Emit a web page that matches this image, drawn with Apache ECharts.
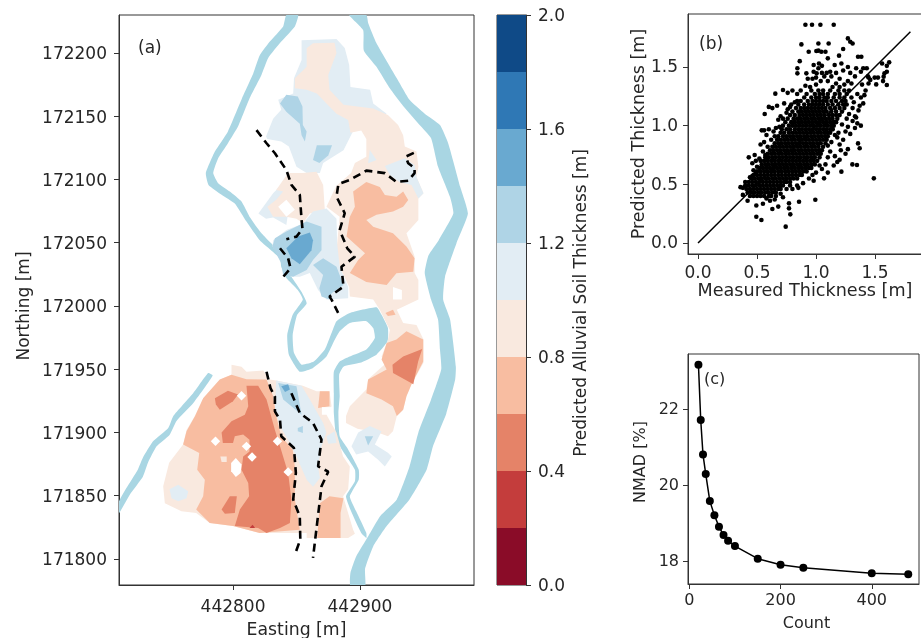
<!DOCTYPE html>
<html><head><meta charset="utf-8">
<style>html,body{margin:0;padding:0;background:#fff;overflow:hidden}#c{width:921px;height:638px;filter:blur(0.35px)}</style>
<script src="https://cdn.jsdelivr.net/npm/echarts@6/dist/echarts.min.js"></script>
</head><body><div id="c"></div>
<script>
// Map coordinates are metres east of 442700 and north of 171800.
const EAST0 = 442700, NORTH0 = 171800;
const levelEdges = [0,0.2,0.4,0.6,0.8,1.0,1.2,1.4,1.6,1.8,2.0];
const levelColors = ['#8a0c28','#c43d3c','#e58368','#f8bda1','#f9e9df','#e2edf4','#afd4e6','#69a9d0','#2f78b5','#0f4a87'];
const colorbarTicks = [0,0.4,0.8,1.2,1.6,2.0];

const riverEast = [[191.5,430],[202.5,418],[203,402],[213,389],[223.5,372],[234,358],[247,343],[256,332.5],[261.5,310],[271,286],[273.5,273],[262,252],[254,240],[251,226],[256,205],[261.5,189],[263,165.5],[264,150],[256,126],[246,100],[239,73],[229,47],[216,34],[206.5,18],[197,2],[192.5,-11],[192.5,-22],[204,-22],[204,-8],[210.5,10],[221,26],[239,47],[252.5,70.5],[257.5,89],[268,115],[275,142],[275.5,152],[271,189],[265.5,205],[267,223],[276,249.5],[285,273],[279,294],[269.5,328.5],[263,343],[251,352],[239,363],[229,380],[213,407.7],[206.5,423.5],[205,430]];
const riverWest = [[142,430],[139.5,421],[129,409],[121,398],[116,384],[107,364],[96,338],[85.7,322],[78.6,305],[80.7,295.7],[91,288],[101.4,281],[110.6,266.7],[121,252],[137,237.7],[138,231],[142,222],[151,212.6],[155,205],[147,193],[142.7,177],[144,161.5],[152.6,148],[163,151],[173.6,160],[180,173],[184,180],[192,186.5],[205,188],[210.4,182.6],[211.7,174.7],[205,165.5],[192,160],[184,156],[179.4,148],[179.4,131],[179.4,115.4],[181.5,94.3],[186.7,85],[196,70.6],[196,61.4],[189,49.5],[193,37.7],[201,20.5],[205,16.6],[205,20.5],[197,37.7],[192,49.5],[199,62.7],[199,70.6],[190,87.7],[184,97],[183,115.4],[184,128.6],[183.6,145.7],[187,152],[200,155],[213,161.5],[221.7,172],[222,182.6],[217,193],[213,199],[192,194.5],[181.5,188],[177.6,178.6],[172.3,165.5],[163.6,156],[154,153.6],[148,163],[147,177],[150.5,193],[158,202],[154,211],[146,223],[142,230],[141,238],[122.4,257.5],[113,270.6],[106.7,282.5],[97.5,290.4],[88.3,297],[84.4,305],[88.3,316.7],[96,328.6],[104,342],[113,364],[122.4,382.6],[127.7,396],[138,409],[148.7,421],[151.3,430]];
const riverSouthWest = [[80.4,147],[68.6,131],[53,113],[49,103.6],[37,93],[29,80],[25,70.6],[16,56],[10,45],[10,36],[18.8,51],[29,65],[33,76],[39.8,89],[50,98],[55.5,109],[68.6,123],[84,145]];

const blueNorth = [[154,410],[181.5,411],[188,404],[191.5,390.5],[192.5,373],[208,371],[210.4,360],[221,352],[197,343],[187,323],[171,313],[168.4,305],[158,305],[150,310],[147,318],[144,326],[138,330],[127,332],[126,334],[131.6,348],[138,355],[135.6,363],[147.4,368],[148,380],[154,394.5]];
const creamNorthEast = [[148.7,380],[158,389],[158,403.7],[163,407.7],[180,408],[181.5,400],[175,382.6],[176,371],[187,359],[210.4,356],[222,351],[230,343],[234,335],[235.3,326],[244.5,322],[246,310],[244.5,302],[250,289],[246,285],[246,268],[236.6,257.5],[243,239],[243,226],[246,220.6],[246,205],[229,197],[234,186.6],[244.5,185],[250,173.4],[250,155],[240.6,138],[236.6,128.6],[234,118],[229,113],[226,101],[222,97],[214,100],[198,103],[189,107.5],[189,113],[192,120.7],[205,134],[206.4,142],[221,155],[217,160],[222,173],[223.5,181],[215.6,197],[210.4,205],[192,207.4],[191.5,215],[184,231],[181.5,244],[184,270.6],[173.6,278.5],[179,290],[181.5,295],[193,305],[196,313],[205,318],[205,332],[201,338.6],[192.5,337],[190.7,347],[181.5,352],[173.6,360],[166,368],[158,371],[148.7,372]];
const blueNorthEast = [[219.6,310.7],[235.3,316.7],[243,311.5],[244.5,302],[250,289],[246,285],[240.6,295.7],[231,298],[223.5,303.6]];
const blueDot = [[207.7,323.3],[213,315.4],[206.4,312.8]];
const salmonEast = [[194.6,290.4],[205,298],[215.6,294],[219.6,287.8],[228.8,286.4],[234,290.4],[238,283.8],[234,278.5],[226,274.6],[213,272],[205,268],[210.4,262.7],[226,257.5],[236.6,247],[243,237.7],[242,227],[228.7,225.8],[221,216.6],[205,219],[192,226],[198.6,236.4],[204,241.6],[189.4,254.8],[192,270.6],[196,278.5]];
const notchEast = [[226,215],[233,212.6],[233,205],[226,205]];
const midBlueNorth = [[137,360],[142,367],[151,365.5],[154.7,357.6],[155,343],[158,338],[156.6,330],[154,335],[152.6,344],[142,353.6]];
const midBlueCentre = [[163,315.4],[166,327],[178,327],[175,319],[168,313]];
const blueCentre = [[155,265],[163,274.6],[173.6,277],[181.5,269],[182,249.5],[184,231],[190.7,215],[190.7,206],[173.6,205],[167,212.6],[160.5,226],[152.6,223],[146,223],[139.5,226],[139.5,236],[131,247],[131.6,252],[142,260]];
const midBlueCoreA = [[131,247],[133,253.5],[142,258.8],[158,266.7],[169.7,262.7],[169.7,244],[163,236.4],[158,228.5],[147.4,223],[139.5,224.5],[138,233.7]];
const midBlueCoreB = [[163,232.4],[171,237.7],[181.5,231],[187,216.6],[177.6,210],[176,205],[169.7,207.4],[168,214],[171,224.5]];
const deepBlueCore = [[142,245.6],[151.3,254.8],[160.5,258],[163,252],[161.8,244],[152.6,233],[146,237.7]];
const blueTail = [[120,273],[131.6,289],[138,295.7],[146,291],[142,264],[131.6,270],[126,269]];
const creamCentre = [[143.4,305],[155,305],[165.8,306],[171,295.7],[172.3,276],[160.5,273],[155,265.4],[150,269],[142,270.6],[131.6,270.6],[127,278.5],[134,284],[139.5,290.4],[134,291.7]];
const holeCentre = [[135.6,278.5],[142,284],[148.7,276],[142,270.6]];

const creamSouth = [[98.8,153.6],[106.7,152],[110.6,148],[123.8,149],[129,141.8],[134,141],[155,137],[165.8,132.5],[176,132.5],[177.6,120.7],[173.6,114],[181.5,100],[186.7,81],[192,73],[190.7,55],[186.7,49.5],[194.6,23],[196,20],[190.7,16.6],[158,16.6],[158,20.5],[146,20.5],[121,20.5],[100,26],[81.7,28.5],[71,36.4],[59.4,37.7],[46.3,44],[45,57.4],[49.7,76],[60.7,90.4],[63.4,102],[70,113],[76.5,127],[89.6,141.8],[98.8,145.7]];
const blueDiagonal = [[134,141],[154,137],[160.5,126],[171,107.5],[173.6,100],[169.7,89],[167,73],[168.4,64],[163,57],[158,62.7],[150,81],[144.8,91.7],[137,105],[133,118]];
const blueDiagonalSpot = [[173.6,97],[180,101],[181.5,91.7],[175,91]];
const midBlueDiagonal = [[135.6,139],[150,136.5],[154,114],[146,120.7],[139.5,126]];
const deepBlueDiagonal = [[138,136.5],[143.4,138],[144.8,134],[141,132]];
const midBlueSpeck = [[151,103.5],[155,105],[155,99.6],[151,101]];
const salmonWest = [[98.8,145.7],[110.6,142],[126.4,141.8],[131.6,128.6],[134,113],[138,97],[147,86.4],[148.7,73],[148.7,47],[152.6,23],[121,20.5],[100,26],[81.7,28.5],[71,39],[76.5,49.5],[77.8,62.7],[71.8,70.6],[73.4,83.8],[60.7,90.4],[63.4,101],[70,112.8],[76.5,127],[89.6,141.8]];
const redMain = [[110.6,137],[119.8,137],[126.4,126],[133,102],[137,89],[143.4,68],[146,47],[144.8,28.5],[137,24.5],[126.4,20.5],[119.8,24.5],[101.4,26],[105.4,39],[112.7,49.5],[112,60],[106.7,70.6],[108,81],[113,85],[113,94.3],[108,98.3],[101.4,97],[100,91.7],[92,91.7],[91,100],[98.8,108.8],[109.3,114],[112,120.7]];
const redNorth = [[85.7,127],[96,133],[104,130],[100,124.6],[89.6,118],[86.5,122]];
const redSouth = [[91,39],[97.5,49.5],[103,49.5],[101.4,36.4],[93.6,35.8]];
const deepRedSpeck = [[113,24.5],[115.4,27],[117.4,24.5]];
const bluePatchWest = [[50,55],[56.8,58.7],[64.7,53.5],[63.4,48],[56.8,45.6],[51.6,48]];
const creamSpeck = [[90,81],[95,81],[95,76.7],[91,76.7]];
const holeA = [[103,129],[106.7,132.7],[110.4,129],[106.7,125.3]];
const holeB = [[82.5,93],[86.2,96.7],[89.9,93],[86.2,89.3]];
const holeC = [[106.9,89],[110.6,92.7],[114.3,89],[110.6,85.3]];
const holeD = [[111.3,80.6],[115,84.3],[118.7,80.6],[115,76.9]];
const holeE = [[131.3,93],[135,96.7],[138.7,93],[135,89.3]];
const holeF = [[139.7,68.8],[143.4,72.5],[147.1,68.8],[143.4,65.1]];
const holeG = [[102.2,79.8],[106.7,74.6],[106,68],[102.2,64.8],[98.5,69.3],[98.5,75.9]];
const salmonSouthEast = [[168.4,44],[176,49.5],[187,48],[184.7,36.4],[184.7,16.6],[166.3,16.6]];
const salmonSpot = [[168.4,132.5],[176,132.5],[176,120.7],[167,119.4]];
const holeH = [[170,120],[177.6,120],[177.6,114],[170,114]];
const salmonUpper = [[217,157.6],[221,170.7],[228.7,173.4],[236.6,180],[249.8,173.4],[249.8,156],[240.6,138],[236.6,128.6],[234,118],[229,113],[226,120.7],[217,126],[205,131],[206.4,141.8],[221,149.7]];
const redUpper = [[225.6,153.6],[234,160],[249,166],[245.8,156],[242,138],[235.3,141.8],[226,147]];
const salmonSpeck = [[220,194.5],[226,197],[228,193],[222,192]];
const bluePatchSouth = [[193.3,89],[198.6,100],[207.7,105],[217,101],[211.7,90.4],[222,84],[225,81],[219.6,73],[214.3,78.5],[206.4,85],[197,82.5]];
const midBluePatch = [[203.8,97],[210.4,97],[206.4,89.6]];

// [level index, outline]; level -1 is an unfilled gap. Later layers paint over earlier ones.
const contourLayers = [
 [5,blueNorth],[4,creamNorthEast],[5,blueNorthEast],[5,blueDot],[3,salmonEast],[-1,notchEast],
 [6,midBlueNorth],[6,midBlueCentre],[5,blueTail],[4,creamCentre],[-1,holeCentre],
 [5,blueCentre],[6,midBlueCoreA],[6,midBlueCoreB],[7,deepBlueCore],
 [4,creamSouth],[5,blueDiagonal],[5,blueDiagonalSpot],[6,midBlueDiagonal],[7,deepBlueDiagonal],[6,midBlueSpeck],
 [3,salmonWest],[2,redMain],[2,redNorth],[2,redSouth],[1,deepRedSpeck],[5,bluePatchWest],[4,creamSpeck],
 [-1,holeA],[-1,holeB],[-1,holeC],[-1,holeD],[-1,holeE],[-1,holeF],[-1,holeG],
 [3,salmonSouthEast],[3,salmonSpot],[-1,holeH],[3,salmonUpper],[2,redUpper],[3,salmonSpeck],[5,bluePatchSouth],[6,midBluePatch]
];

const dashA = [[118.5,339],[126.4,328.6],[133,320.7],[142,307.5],[146,295.7],[152.6,287.8],[154,268],[154.7,261],[150,254.8],[142,252.7]];
const dashA2 = [[137,245.6],[143.4,237.7],[145.3,229.8],[139.5,223]];
const dashB = [[242.4,321],[236,318],[238,312.8],[243,309],[243,305],[238,299],[228.8,298],[219.6,305],[205,307],[192,299.6],[183,296.4],[181.5,286.4],[188,273.3],[184,260],[190,245.6],[196,239],[185.4,231],[187,215.3],[176,207.4],[177.6,205],[182.8,194.5]];
const dashC = [[126.4,148],[129.5,135],[133,128.6],[133,116.7],[137,110],[138,97],[148,87.7],[149.5,68],[147.4,47],[152.6,33.7],[153,15.3],[148.7,3.4]];
const dashD = [[146,131],[152.6,115.4],[163,107.5],[169.7,94.3],[167,73.2],[175,69],[169.7,57.4],[163,0.8]];

const mapEastTicks = [442800,442900];
const mapNorthTicks = [171800,171850,171900,171950,172000,172050,172100,172150,172200];

// Scatter (b): each row is [predicted, measured, measured, ...]
const scatterRows = [
[.40,.44,.47,.50,.53,.56,.60,.62],
[.43,.42,.45,.48,.51,.54,.57,.60,.63,.66],
[.46,.41,.44,.47,.50,.53,.56,.59,.62,.65,.68,.70],
[.49,.40,.43,.46,.49,.52,.55,.58,.61,.64,.67,.70,.72],
[.52,.43,.46,.49,.52,.55,.58,.61,.64,.67,.70,.73,.75,.78],
[.55,.45,.48,.51,.54,.57,.60,.63,.66,.69,.72,.75,.78,.81,.84],
[.58,.47,.50,.53,.56,.59,.62,.65,.68,.71,.74,.77,.80,.83,.86,.88],
[.61,.50,.53,.56,.59,.62,.65,.68,.71,.74,.77,.80,.83,.86,.89,.92],
[.64,.52,.55,.58,.61,.64,.67,.70,.73,.76,.79,.82,.85,.88,.91,.94,.96],
[.67,.54,.57,.60,.63,.66,.69,.72,.75,.78,.81,.84,.87,.90,.93,.96,.99],
[.70,.56,.59,.62,.65,.68,.71,.74,.77,.80,.83,.86,.89,.92,.95,.98,1.01],
[.73,.57,.60,.63,.66,.69,.72,.75,.78,.81,.84,.87,.90,.93,.96,.99,1.03],
[.76,.59,.62,.65,.68,.71,.74,.77,.80,.83,.86,.89,.92,.95,.98,1.01,1.04],
[.79,.61,.64,.67,.70,.73,.76,.79,.82,.85,.88,.91,.94,.97,1.00,1.03,1.05],
[.82,.63,.66,.69,.72,.75,.78,.81,.84,.87,.90,.93,.96,.99,1.02,1.06],
[.85,.65,.68,.71,.74,.77,.80,.83,.86,.89,.92,.95,.98,1.01,1.04,1.08],
[.88,.67,.70,.73,.76,.79,.82,.85,.88,.91,.94,.97,1.00,1.03,1.06,1.09],
[.91,.68,.72,.75,.78,.81,.84,.87,.90,.93,.96,.99,1.02,1.05,1.08,1.10],
[.94,.70,.73,.77,.80,.83,.86,.89,.92,.95,.98,1.01,1.04,1.07,1.10,1.12],
[.97,.71,.75,.78,.82,.85,.88,.91,.94,.97,1.00,1.03,1.06,1.09,1.12,1.14],
[1.00,.72,.77,.80,.83,.86,.89,.92,.95,.98,1.01,1.04,1.07,1.10,1.13,1.15],
[1.03,.74,.79,.82,.85,.88,.91,.94,.97,1.00,1.03,1.06,1.09,1.12,1.15,1.17],
[1.06,.76,.81,.84,.87,.90,.93,.96,.99,1.02,1.05,1.08,1.11,1.14,1.18],
[1.09,.78,.82,.86,.89,.92,.95,.98,1.01,1.04,1.07,1.11,1.14,1.17,1.20],
[1.12,.80,.85,.88,.91,.94,.97,1.00,1.03,1.06,1.09,1.13,1.17,1.22],
[1.15,.83,.87,.90,.93,.96,.99,1.02,1.05,1.08,1.12,1.16,1.20,1.24],
[1.18,.85,.90,.94,.97,1.00,1.03,1.06,1.10,1.14,1.19,1.23,1.26],
[1.21,.87,.93,.97,1.00,1.03,1.06,1.09,1.13,1.17,1.22,1.25],
[1.24,.90,.96,1.00,1.03,1.07,1.10,1.15,1.20,1.24],
[1.27,.92,.99,1.03,1.06,1.10,1.16,1.20,1.26],
[1.30,.96,1.02,1.06,1.12,1.19,1.24]
];
const scatterOutliers = [
[.91,1.86],[.966,1.86],[1.037,1.86],[1.15,1.86],[.876,1.693],[1.02,1.70],[1.107,1.70],[1.27,1.744],[1.29,1.716],[1.31,1.70],[1.23,1.653],[.938,1.63],[1.003,1.636],[1.02,1.64],[1.045,1.63],[1.08,1.63],[1.195,1.597],[1.10,1.574],[1.356,1.588],[1.384,1.588],[.862,1.55],[.98,1.517],[1.025,1.53],[1.05,1.51],[1.158,1.517],[1.215,1.53],[.842,1.489],[.842,1.446],[.918,1.446],[.98,1.46],[1.005,1.446],[1.62,1.54],[1.56,1.53],[1.60,1.51],[1.60,1.46],[1.58,1.446],[1.573,1.418],[1.525,1.41],[1.497,1.41],[1.51,1.352],[1.568,1.38],[1.60,1.347],[1.34,1.49],[1.40,1.49],[1.43,1.49],[1.38,1.46],[1.46,1.39],[1.445,1.41],[1.445,1.36],[1.49,.551],
[.743,.139],[.494,.224],[.537,.196],[.771,.338],[.771,.295],[.782,.244],[.856,.352],[.994,.369],[.68,.31],[.63,.29],[.55,.335],[.494,.32],[.42,.36],[.38,.41],[.36,.476],[.61,.36],[.72,.39],[.80,.46],[.84,.49],
[1.347,.665],[1.308,.67],[1.215,.608],[1.068,.551],[1.37,.807],[1.356,.849],[.655,1.273],[.565,1.099],[.72,1.304],[.43,.73],[.48,.75],[.46,.68],[.49,.70],[.53,.70],[.55,.78],[.53,.84],[.56,.86],[.58,.92],[.54,.96],[.56,.96],[.60,.97],[.64,.95],[.66,.98],[.68,1.05],[.70,1.08],[.63,1.15],[.67,1.17],[.60,1.16],[.73,1.19],[.76,1.14],[.79,1.18],[.76,1.28],[.80,1.30],[.84,1.27],[.84,1.21],[.87,1.30],[.91,1.34],[.95,1.33],[1.00,1.35],[.93,1.40],[.97,1.40],[1.00,1.41],[1.04,1.38],[1.07,1.42],[1.10,1.38],[1.13,1.42],[1.17,1.45],[1.20,1.40],[1.23,1.47],[1.17,1.36],[1.14,1.33],[1.20,1.33],[1.24,1.35],[1.27,1.38],[1.30,1.36],[1.33,1.42],[1.29,1.45],[1.27,1.50],[1.12,1.46],[1.09,1.45],[1.05,1.45],[1.02,1.49],[1.28,1.30],[1.30,1.24],[1.32,1.20],[1.35,1.27],[1.38,1.24],[1.41,1.26],[1.37,1.17],[1.40,1.19],[1.36,1.13],[1.31,1.15],[1.28,1.10],[1.33,1.08],[1.26,1.06],[1.31,1.04],[1.35,1.02],[1.38,1.00],[1.33,.98],[1.27,.99],[1.25,.95],[1.22,1.01],[1.19,.94],[1.16,.92],[1.14,.97],[1.29,.93],[1.23,.88],[1.20,.84],[1.18,.90],[1.13,.86],[1.10,.83],[1.21,.79],[1.25,.76],[1.27,.80],[1.16,.74],[1.12,.78],[1.10,.73],[1.18,.69],[1.15,.66],[1.20,.71],[1.08,.67],[1.05,.63],[1.03,.66],[1.00,.60],[1.10,.60],[.97,.58],[.94,.55],[.98,.53],[.89,.51],[.85,.47],[.78,.49],[.75,.46],[.70,.42],[.66,.40],[.58,.38],[.65,.37],[.38,.47],[.40,.52],[.44,.56],[.47,.62],[.46,.57],[.50,.65],[.49,.60],[.52,.72],[.57,.75],[.59,.82],[.62,.88],[.65,.91],[.69,.99],[.72,1.06],[.75,1.11],[.78,1.16],[.82,1.20],[1.34,1.07],[1.44,1.42],[1.39,1.35],[1.42,1.30]
];
const lineEnds = [[0,0],[1.8,1.8]];
const bTicks = [0,0.5,1.0,1.5];

// Panel (c)
const counts = [20,25,30,36,45,55,65,75,85,100,150,200,250,400,480];
const nmad = [23.16,21.71,20.80,20.29,19.58,19.21,18.91,18.69,18.54,18.40,18.07,17.91,17.83,17.69,17.66];
const cXTicks = [0,200,400];
const cYTicks = [18,20,22];

const FONT = 'DejaVu Sans', TXT = '#262626', FRAME = '#333';
const scatterData = [];
scatterRows.forEach(r => r.slice(1).forEach(x => scatterData.push([x, r[0]])));
scatterOutliers.forEach(p => scatterData.push(p));

function ax(o){
  const ticks = o.ticks;
  const txt = v => o.dec ? v.toFixed(o.dec) : String(v);
  return Object.assign({
    type:'value', scale:true, splitLine:{show:false}, nameMoveOverlap:false,
    axisLine:{show:true,onZero:false,lineStyle:{color:FRAME,width:1}},
    axisTick:{show:true,length:5,customValues:ticks,lineStyle:{color:FRAME,width:1}},
    axisLabel:{show:true,customValues:ticks,color:TXT,fontFamily:FONT,fontSize:o.fs,margin:o.lm,
      formatter:o.drop?(v=>'{v|'+txt(v)+'}'):txt,
      rich:o.drop?{v:{color:TXT,fontFamily:FONT,fontSize:o.fs,padding:[o.drop,0,0,0]}}:undefined},
    nameLocation:'middle',
    nameTextStyle:{color:TXT,fontFamily:FONT,fontSize:o.nfs||o.fs,padding:o.npad||0}
  }, o.x);
}
const frame = {show:true,borderColor:FRAME,borderWidth:1,backgroundColor:'transparent',outerBoundsMode:'none'};
function polySeries(list, fillOf, smooth){
  return {type:'custom',xAxisIndex:0,yAxisIndex:0,silent:true,clip:true,animation:false,z:2,
    data:list.map((p,i)=>[EAST0+p[1][0][0],NORTH0+p[1][0][1],i]),
    renderItem:(params,api)=>{
      const item=list[api.value(2)];
      return {type:'polygon',shape:{smooth:smooth||0,points:item[1].map(q=>api.coord([EAST0+q[0],NORTH0+q[1]]))},style:{fill:fillOf(item[0])}};
    }};
}
function dashSeries(path){
  return {type:'line',xAxisIndex:0,yAxisIndex:0,z:5,silent:true,animation:false,showSymbol:false,symbol:'none',clip:true,
    data:path.map(q=>[EAST0+q[0],NORTH0+q[1]]),
    lineStyle:{color:'#000',width:2.6,type:[8,5]}};
}
const RIVER='#a9d6e3';
const riverLayers=[[0,riverEast],[0,riverWest],[0,riverSouthWest]];
const bands=levelColors.map((c,i)=>[0,levelEdges[i],1,levelEdges[i+1],i]);

const option={
  animation:false,backgroundColor:'#fff',
  textStyle:{fontFamily:FONT},
  grid:[
    Object.assign({left:119,top:15,width:355,height:570},frame),
    Object.assign({left:497,top:15,width:29,height:570},frame),
    Object.assign({left:688,top:14,width:240,height:240},frame),
    Object.assign({left:688,top:354,width:231,height:230},frame)
  ],
  xAxis:[
    ax({ticks:mapEastTicks,fs:17,nfs:17.3,lm:14,x:{gridIndex:0,min:442710.2,max:442989.8,name:'Easting [m]',nameGap:37}}),
    {type:'value',gridIndex:1,min:0,max:1,show:false},
    ax({ticks:bTicks,fs:17,dec:1,lm:11,nfs:17.6,npad:[0,6,0,0],x:{gridIndex:2,min:-0.085,max:1.949,name:'Measured Thickness [m]',nameGap:28}}),
    ax({ticks:cXTicks,fs:16,lm:9,npad:[0,0,0,6],x:{gridIndex:3,min:-2.9,max:503.6,name:'Count',nameGap:32}})
  ],
  yAxis:[
    ax({ticks:mapNorthTicks,fs:17,lm:12,drop:4,npad:[0,12,0,0],x:{gridIndex:0,min:171779.4,max:172230,name:'Northing [m]',nameGap:86}}),
    ax({ticks:colorbarTicks,fs:17,dec:1,lm:12,drop:4,npad:[0,6,0,0],x:{gridIndex:1,min:0,max:2,position:'right',name:'Predicted Alluvial Soil Thickness [m]',nameRotate:90,nameGap:47}}),
    ax({ticks:bTicks,fs:17,dec:1,lm:10,drop:2,nfs:17.5,x:{gridIndex:2,min:-0.094,max:1.952,name:'Predicted Thickness [m]',nameGap:40}}),
    ax({ticks:cYTicks,fs:16,lm:9,drop:2,npad:[0,0,0,14],x:{gridIndex:3,min:17.405,max:23.44,name:'NMAD [%]',nameGap:39}})
  ],
  series:[
    polySeries(riverLayers,()=>RIVER,0.15),
    polySeries(contourLayers,l=>l<0?'#fff':levelColors[l]),
    dashSeries(dashA),dashSeries(dashA2),dashSeries(dashB),dashSeries(dashC),dashSeries(dashD),
    {type:'custom',xAxisIndex:1,yAxisIndex:1,silent:true,animation:false,data:bands,
      renderItem:(params,api)=>{
        const a=api.coord([0,api.value(1)]),b=api.coord([1,api.value(3)]);
        return {type:'rect',shape:{x:a[0],y:b[1],width:b[0]-a[0],height:a[1]-b[1]},style:{fill:levelColors[api.value(4)]}};
      }},
    {type:'scatter',xAxisIndex:2,yAxisIndex:2,silent:true,animation:false,large:false,symbolSize:4.6,itemStyle:{color:'#000',opacity:1},data:scatterData},
    {type:'line',xAxisIndex:2,yAxisIndex:2,silent:true,animation:false,symbol:'none',lineStyle:{color:'#000',width:1.5},data:lineEnds},
    {type:'line',xAxisIndex:3,yAxisIndex:3,silent:true,animation:false,symbol:'circle',symbolSize:8,showSymbol:true,
      itemStyle:{color:'#000'},lineStyle:{color:'#000',width:1.5},data:counts.map((c,i)=>[c,nmad[i]])}
  ],
  graphic:[
    {type:'text',left:138,top:40,style:{text:'(a)',fill:TXT,font:'17px "DejaVu Sans"'}},
    {type:'text',left:699,top:36,style:{text:'(b)',fill:TXT,font:'17px "DejaVu Sans"'}},
    {type:'text',left:704,top:372,style:{text:'(c)',fill:TXT,font:'16px "DejaVu Sans"'}}
  ]
};
const chart=echarts.init(document.getElementById('c'),null,{renderer:'canvas',width:921,height:638});
chart.setOption(option);
</script></body></html>
